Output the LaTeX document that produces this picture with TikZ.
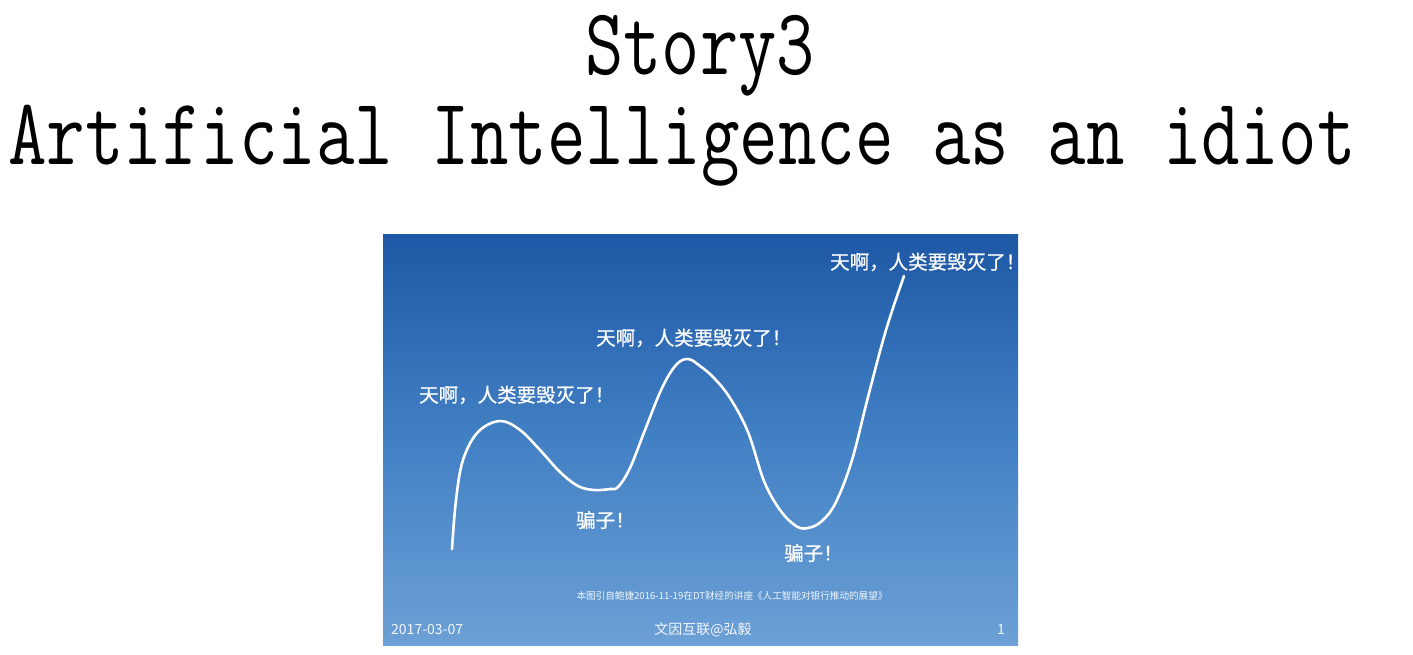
\documentclass[tikz,border=0pt]{standalone}
\usepackage{fontspec}
\newfontfamily\cjk{Noto Sans CJK SC}
\newfontfamily\cjkheavy[FakeBold=0.8]{Noto Sans CJK SC}
\definecolor{slidetop}{RGB}{30,88,166}
\definecolor{slidemid}{RGB}{66,128,196}
\definecolor{slidebot}{RGB}{108,160,214}
\tikzset{
  titletext/.style={font=\ttfamily\fontsize{95}{95}\selectfont, text=black, inner sep=0pt},
  cry/.style={font=\cjkheavy\fontsize{19.5}{19.5}\selectfont, text=white, inner sep=0pt},
  foot/.style={font=\cjk\fontsize{14}{14}\selectfont, text=white!92!slidebot, inner sep=0pt},
  note/.style={font=\cjk\fontsize{9.6}{9.6}\selectfont, text=white!90!slidebot, inner sep=0pt},
}
\begin{document}
\begin{tikzpicture}[x=1pt,y=-1pt]
  % page
  \fill[white] (0,0) rectangle (1413,655);
  \useasboundingbox (0,0) rectangle (1413,655);

  % title lines
  \node[titletext, anchor=base] (story) at (700,75) {\scalebox{0.78}[1]{Story3}};
  \node[titletext, anchor=base] (headline) at (682,165) {\scalebox{0.787}[1]{Artificial Intelligence as an idiot}};

  % slide background
  \shade[top color=slidetop, bottom color=slidebot, middle color=slidemid]
    (383,234) rectangle (1018,645);

  % hype curve
  \draw[white, line width=2.6pt, line cap=round, line join=round]
    plot[smooth, tension=0.6] coordinates {
      (452,549) (456,500) (463,460) (478,432) (500,421) (520,430)
      (540,450) (560,472) (578,486) (594,490) (610,489) (618,487)
      (630,468) (645,430) (662,388) (676,365) (688,359) (700,366)
      (714,378) (730,398) (748,432) (764,481) (780,510) (796,526)
      (808,528) (822,521) (836,502) (852,460) (868,397) (886,330)
      (904,276)};

  % captions on the curve
  \node[cry, anchor=west] (cry1) at (419,395) {天啊，人类要毁灭了！};
  \node[cry, anchor=west] (cry2) at (596,338) {天啊，人类要毁灭了！};
  \node[cry, anchor=west] (cry3) at (830,262) {天啊，人类要毁灭了！};
  \node[cry, anchor=west] (liar1) at (576,520) {骗子！};
  \node[cry, anchor=west] (liar2) at (784,553) {骗子！};

  % source note and footer
  \node[note] (source) at (732,596) {本图引自鲍捷2016-11-19在DT财经的讲座《人工智能对银行推动的展望》};
  \node[foot, anchor=west] (date) at (391,630) {2017-03-07};
  \node[foot] (author) at (703,630) {文因互联@弘毅};
  \node[foot] (page) at (1001,630) {1};
\end{tikzpicture}
\end{document}
